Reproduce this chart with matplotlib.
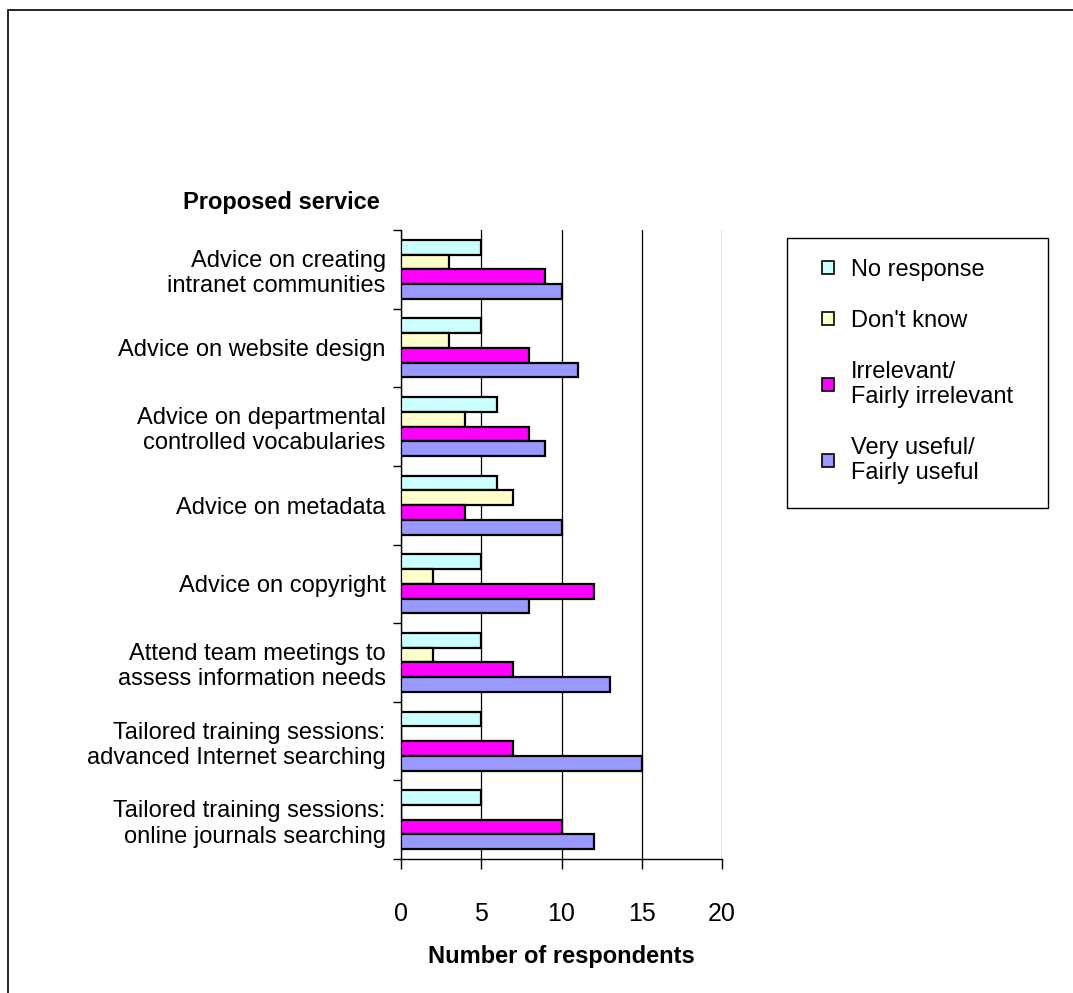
import matplotlib
import matplotlib.pyplot as plt
import numpy as np
from matplotlib.patches import Patch, Rectangle

matplotlib.use("Agg")
plt.rcParams["font.family"] = ["Liberation Sans", "DejaVu Sans"]

SERVICES = [
    "Advice on creating\nintranet communities",
    "Advice on website design",
    "Advice on departmental\ncontrolled vocabularies",
    "Advice on metadata",
    "Advice on copyright",
    "Attend team meetings to\nassess information needs",
    "Tailored training sessions:\nadvanced Internet searching",
    "Tailored training sessions:\nonline journals searching",
]
SERIES = [
    "No response",
    "Don't know",
    "Irrelevant/\nFairly irrelevant",
    "Very useful/\nFairly useful",
]
NO_RESPONSE = [5, 5, 6, 6, 5, 5, 5, 5]
DONT_KNOW = [3, 3, 4, 7, 2, 2, 0, 0]
IRRELEVANT = [9, 8, 8, 4, 12, 7, 7, 10]
USEFUL = [10, 11, 9, 10, 8, 13, 15, 12]
COLORS = ["#CCFFFF", "#FFFFCC", "#FF00FF", "#9999FF"]
X_TICKS = [0, 5, 10, 15, 20]

W, H = 1073, 993
FS = 17


def main() -> None:
    fig = plt.figure(figsize=(W / 100, H / 100), dpi=100)
    fig.patches.append(
        Rectangle((8 / W, -0.2), 1.5, 1 - 10 / H + 0.2, transform=fig.transFigure,
                  fill=False, edgecolor="black", lw=1.2)
    )
    ax = fig.add_axes([401 / W, 1 - 859 / H, 321 / W, 629 / H])

    n = len(SERVICES)
    y = np.arange(n)
    h = 0.1875
    values = [NO_RESPONSE, DONT_KNOW, IRRELEVANT, USEFUL]
    for k, (vals, color) in enumerate(zip(values, COLORS)):
        ax.barh(y + (k - 1.5) * h, vals, height=h, color=color,
                edgecolor="black", linewidth=1.6, zorder=3)

    ax.set_xlim(0, 20)
    ax.set_ylim(n - 0.5, -0.5)
    ax.set_xticks(X_TICKS)
    ax.set_xticklabels([str(t) for t in X_TICKS], fontsize=18)
    ax.tick_params(axis="x", length=7, width=1, pad=24)
    ax.set_yticks(np.arange(n + 1) - 0.5)
    ax.set_yticklabels([])
    ax.tick_params(axis="y", which="major", length=6, width=1)
    ax.set_yticks(y, minor=True)
    ax.set_yticklabels(SERVICES, minor=True, fontsize=FS, ha="right")
    ax.tick_params(axis="y", which="minor", length=0, pad=11)

    ax.grid(axis="x", color="black", lw=0.9, zorder=1)
    for side in ("top", "right"):
        ax.spines[side].set_visible(False)
    for side in ("left", "bottom"):
        ax.spines[side].set_linewidth(1)

    fig.text(380 / W, 1 - 203 / H, "Proposed service", fontsize=FS,
             fontweight="bold", ha="right", va="center")
    fig.text(561 / W, 1 - 956 / H, "Number of respondents", fontsize=FS,
             fontweight="bold", ha="center", va="center")

    fig.patches.append(
        Rectangle((787 / W, 1 - 508 / H), 261 / W, 270 / H, transform=fig.transFigure,
                  fill=False, edgecolor="black", lw=1)
    )
    handles = [Patch(facecolor=c, edgecolor="black", lw=1.2) for c in COLORS]
    fig.legend(handles, SERIES, loc="upper left", bbox_to_anchor=(801 / W, 1 - 238 / H),
               frameon=False, fontsize=FS, handlelength=0.48, handleheight=0.48,
               handletextpad=0.75, labelspacing=1.22)

    fig.savefig("out.png", dpi=100)
    plt.close("all")


if __name__ == "__main__":
    main()
